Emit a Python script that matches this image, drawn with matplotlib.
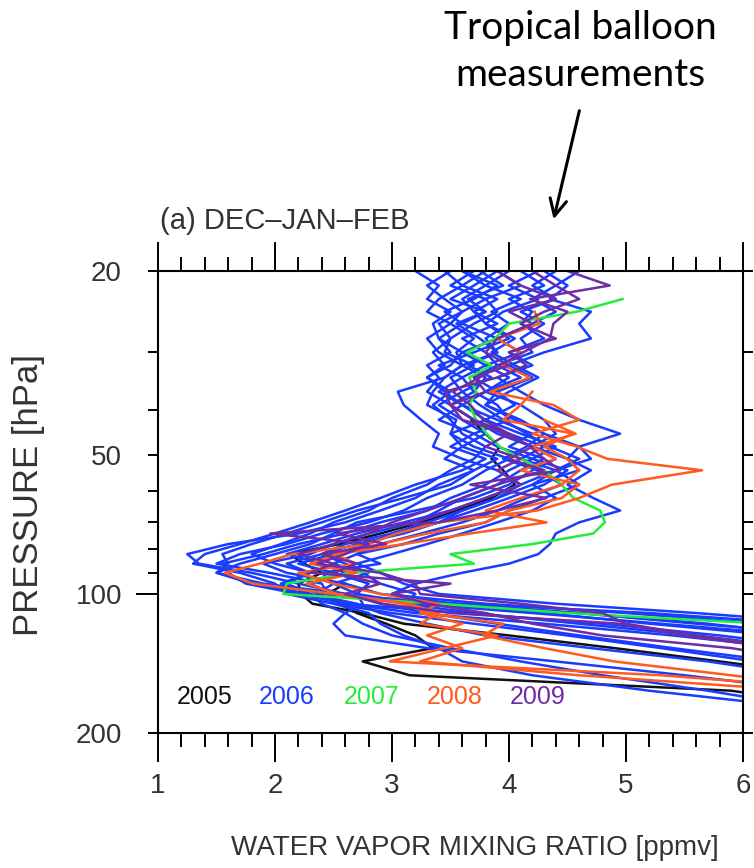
import numpy as np
import matplotlib.pyplot as plt

nan = np.nan

# pressure levels [hPa] shared by all balloon profiles
pressure = [20, 21.5, 23, 24.5, 26, 28, 30, 32, 34, 36.5, 39, 42,
            45, 48, 51, 54, 58, 62, 66, 70, 74, 78, 82, 86,
            90, 95, 100, 105, 110, 116, 123, 131, 140, 150, 162, 175]

# water vapour mixing ratio [ppmv], one list per sounding
h2o_2005 = [
    [nan, nan, nan, nan, nan, nan, nan, nan, nan, nan, nan, 3.68,
     3.8, 3.92, 3.85, 3.95, 4.05, 3.85, 3.55, 3.25, 2.9, 2.55, 2.12, 2.25,
     2.4, 2.2, 2.22, 2.32, 2.75, 3.1, 4.0, 4.9, 5.8, 6.7, nan, nan],
    [nan, nan, nan, nan, nan, nan, nan, nan, nan, nan, nan, nan,
     nan, nan, nan, nan, nan, nan, nan, nan, nan, nan, nan, nan,
     nan, 2.6, 2.45, 2.55, 2.7, 2.95, 3.2, 3.35, 2.75, 3.15, 5.9, 6.8],
]

h2o_2006 = [
    [3.7, 3.5, 3.8, 3.6, 3.5, 3.7, 3.55, 3.6, 3.45, 3.05, 3.1, 3.25,
     3.4, 3.35, 3.6, 3.9, 4.1, 3.8, 3.5, 3.1, 2.7, 2.4, 2.1, 2.4,
     2.6, 2.3, 2.5, 3.4, 4.6, 5.6, 6.8, nan, nan, nan, nan, nan],
    [4.3, 4.5, 4.35, 4.7, 4.6, 4.7, 4.3, 4.0, 4.2, 3.9, 4.05, 3.8,
     4.1, 4.4, 4.2, 4.5, 4.3, 4.0, 3.7, 3.4, 3.0, 2.8, 2.5, 2.2,
     2.5, 2.8, 2.7, 3.2, 4.2, 5.3, 6.5, nan, nan, nan, nan, nan],
    [3.9, 4.1, 3.8, 3.9, 3.7, 3.5, 3.45, 3.7, 3.5, 3.6, 3.4, 3.6,
     3.8, 3.6, 3.9, 3.7, 3.4, 3.2, 2.9, 2.6, 2.2, 1.6, 1.25, 1.35,
     1.8, 2.2, 2.6, 3.3, 4.3, 5.2, 6.3, nan, nan, nan, nan, nan],
    [4.0, 3.8, 4.1, 3.85, 4.0, 3.8, 3.9, 3.6, 3.8, 3.7, 3.9, 4.0,
     3.7, 3.9, 4.2, 4.0, 3.8, 3.5, 3.3, 2.9, 2.6, 2.2, 1.9, 1.55,
     1.6, 1.75, 2.2, 2.6, 3.6, 4.8, 5.8, 6.7, nan, nan, nan, nan],
    [3.6, 3.8, 3.6, 3.7, 3.9, 3.6, 3.8, 3.9, 3.7, 3.9, 3.8, 4.1,
     4.3, 4.6, 4.5, 4.7, 4.5, 4.72, 4.95, 4.6, 4.4, 4.35, 4.25, 4.0,
     3.6, 3.2, 3.0, 3.5, 4.6, 5.7, 6.6, nan, nan, nan, nan, nan],
    [4.1, 4.3, 4.0, 4.2, 4.1, 4.3, 4.0, 4.2, 3.9, 4.1, 4.3, 4.6,
     4.95, 4.6, 4.7, 4.4, 4.6, 4.3, 4.0, 3.8, 3.4, 3.1, 2.7, 2.9,
     2.4, 2.5, 2.35, 2.6, 3.2, 4.3, 5.4, 6.4, nan, nan, nan, nan],
    [3.5, 3.3, 3.45, 3.6, 3.4, 3.5, 3.35, 3.45, 3.3, 3.5, 3.35, 3.5,
     3.6, 3.8, 3.7, 3.5, 3.3, 3.0, 2.8, 2.5, 2.3, 2.05, 1.8, 2.0,
     2.3, 2.1, 2.3, 2.4, 2.6, 2.5, 2.6, 3.3, 4.4, 5.5, 6.6, nan],
    [3.8, 3.6, 3.9, 3.7, 3.8, 4.0, 3.7, 3.4, 3.6, 3.4, 3.6, 3.8,
     3.5, 3.7, 4.0, 3.8, 3.6, 3.3, 3.1, 2.8, 2.4, 2.1, 1.7, 1.5,
     1.95, 2.4, 2.45, 2.5, 2.8, 2.9, 3.1, 3.4, 3.6, 4.2, 5.2, 6.4],
    [4.4, 4.2, 4.4, 4.1, 4.3, 4.1, 4.2, 3.9, 4.1, 3.8, 3.6, 3.9,
     4.2, 4.0, 4.3, 4.1, 3.9, 3.6, 3.4, 3.2, 2.8, 2.5, 2.3, 1.9,
     2.1, 2.6, 2.9, 3.8, 5.0, 6.2, nan, nan, nan, nan, nan, nan],
    [3.2, 3.4, 3.3, 3.5, 3.35, 3.4, 3.5, 3.3, 3.4, 3.3, 3.5, 3.7,
     3.9, 4.2, 4.4, 4.2, 4.0, 3.7, 3.2, 2.7, 2.5, 2.3, 2.0, 1.7,
     1.5, 1.9, 2.6, 2.9, 3.3, 3.9, 4.6, 5.4, 6.3, nan, nan, nan],
    [3.6, 3.9, 3.7, 3.45, 3.6, 3.9, 3.6, 3.8, 4.0, 3.8, 4.1, 4.3,
     4.4, 4.2, 4.5, 4.6, 4.2, 4.4, 4.2, 3.9, 3.6, 3.3, 3.0, 2.7,
     2.9, 3.1, 3.4, 4.4, 5.6, 6.8, nan, nan, nan, nan, nan, nan],
    [3.9, 3.7, 3.5, 3.8, 3.6, 3.4, 3.6, 3.5, 3.3, 3.45, 3.6, 3.4,
     3.7, 3.5, 3.8, 3.6, 3.2, 2.9, 2.6, 2.3, 2.0, 1.7, 1.4, 1.3,
     1.7, 2.0, 2.1, 2.5, 3.0, 3.7, 4.5, 5.3, 6.1, nan, nan, nan],
    [4.6, 4.4, 4.2, 4.4, 4.2, 3.9, 4.1, 3.8, 3.6, 3.7, 3.5, 3.7,
     4.0, 4.3, 4.1, 4.4, 4.2, 3.9, 3.6, 3.4, 3.1, 2.7, 2.4, 2.6,
     2.8, 2.5, 2.7, 2.75, 2.6, 2.75, 3.0, 3.5, 4.1, 4.8, 5.7, 6.5],
    [3.75, 3.95, 3.65, 3.8, 3.55, 3.75, 3.9, 3.65, 3.85, 3.6, 3.75, 3.95,
     4.15, 4.35, 4.6, 4.4, 4.1, 3.9, 3.6, 3.3, 3.0, 2.6, 2.4, 2.1,
     2.3, 2.05, 2.4, 3.6, 5.2, 6.5, nan, nan, nan, nan, nan, nan],
    [4.25, 4.0, 4.25, 3.95, 3.8, 4.05, 3.85, 4.05, 4.25, 4.0, 3.8, 4.05,
     4.3, 4.15, 3.95, 4.25, 4.45, 4.15, 3.9, 3.6, 3.25, 2.9, 2.7, 2.5,
     2.75, 2.9, 3.2, 3.1, 3.7, 4.6, 5.6, 6.5, nan, nan, nan, nan],
    [3.45, 3.6, 3.4, 3.3, 3.5, 3.3, 3.4, 3.6, 3.45, 3.35, 3.3, 3.55,
     3.5, 3.6, 3.45, 3.7, 3.5, 3.1, 2.7, 2.4, 2.1, 1.8, 1.55, 1.6,
     1.5, 1.8, 2.3, 2.7, 2.9, 3.3, 3.8, 4.7, 5.7, 6.5, nan, nan],
]

h2o_2007 = [
    [nan, nan, 4.97, 4.58, 4.0, 3.88, 3.64, 3.85, 3.66, 3.72, 3.66, 3.72,
     3.81, 3.92, 4.1, 4.3, 4.45, 4.55, 4.78, 4.82, 4.72, 4.2, 3.5, 3.7,
     2.65, 2.1, 2.07, 3.4, 4.5, 6.2, nan, nan, nan, nan, nan, nan],
]

h2o_2008 = [
    [nan, nan, nan, 4.22, 4.26, 3.9, 4.1, 3.95, 4.18, 3.84, 4.38, 4.6,
     4.2, 4.58, 4.84, 5.65, 4.88, 4.6, 4.24, 3.4, 3.04, 2.8, 2.15, 1.87,
     1.57, 1.81, 2.5, 3.1, 3.3, 3.95, 3.78, 4.3, 4.9, 5.9, 7.0, nan],
    [nan, nan, nan, nan, nan, nan, nan, nan, nan, 4.2, 4.1, 3.95,
     4.55, 4.3, 4.5, 4.6, 4.45, 4.1, 3.8, 4.32, 3.67, 3.1, 2.53, 2.3,
     2.7, 2.27, 2.53, 3.15, 3.4, 3.24, 3.9, 3.45, 2.98, 5.3, 7.0, nan],
    [nan, nan, nan, nan, nan, nan, nan, nan, nan, nan, nan, 4.3,
     4.57, 4.2, 4.4, 4.1, 4.6, 4.45, 4.0, 3.8, 3.3, 2.9, 2.5, 2.7,
     2.2, 2.5, 2.9, 3.4, 3.24, 3.6, 3.3, 3.6, 3.24, 4.6, 6.5, nan],
]

h2o_2009 = [
    [4.5, 4.86, 4.18, 4.5, 4.38, 4.35, 4.12, 3.92, 3.75, 3.52, 3.67, 3.78,
     4.0, 4.18, 4.3, 4.44, 3.67, 4.32, 3.9, 3.4, 1.96, 2.8, 2.6, 2.36,
     2.9, 3.2, 3.24, 4.1, 4.8, 5.0, 5.6, 6.4, nan, nan, nan, nan],
    [4.2, 4.4, 4.6, 4.3, 4.1, 4.4, 4.0, 4.15, 3.9, 3.45, 3.5, 3.6,
     4.0, 3.8, 4.1, 3.9, 4.1, 3.8, 3.5, 3.2, 2.53, 2.95, 2.4, 2.7,
     2.5, 2.9, 2.6, 2.92, 3.5, 4.95, 5.5, 6.3, nan, nan, nan, nan],
    [3.9, 4.1, 4.4, 4.0, 4.2, 3.9, 3.8, 4.0, 3.7, 3.8, 3.5, 3.7,
     3.95, 4.2, 4.0, 4.3, 3.9, 3.6, 3.3, 3.0, 2.8, 2.5, 2.2, 2.5,
     2.3, 3.5, 3.0, 3.3, 3.8, 4.2, 4.8, 5.9, 6.6, nan, nan, nan],
]

years = ['2005', '2006', '2007', '2008', '2009']
colors = ['#111111', '#1a3cff', '#22ee3a', '#ff5a1f', '#6e2ca6']
profiles = [h2o_2005, h2o_2006, h2o_2007, h2o_2008, h2o_2009]

x_ticks = [1, 2, 3, 4, 5, 6]
y_ticks = [20, 50, 100, 200]
y_minor = [30, 40, 60, 70, 80, 90]

plt.rcParams['font.family'] = ['Liberation Sans', 'DejaVu Sans']

fig = plt.figure(figsize=(7.54, 8.68), dpi=100)
ax = fig.add_axes([158 / 754, 1 - 733 / 868, 585 / 754, 462 / 868])

for group, col in zip(profiles, colors):
    for prof in group:
        ax.plot(prof, pressure, color=col, lw=1.8)

ax.set_yscale('log')
ax.set_ylim(200, 20)
ax.set_xlim(1, 6)

ax.set_xticks(x_ticks)
ax.set_xticklabels([str(v) for v in x_ticks])
ax.set_xticks(np.arange(1, 6.01, 0.2), minor=True)
ax.set_yticks(y_ticks)
ax.set_yticklabels([str(v) for v in y_ticks])
ax.set_yticks(y_minor, minor=True)
ax.yaxis.set_minor_formatter(plt.NullFormatter())

ax.tick_params(axis='x', which='major', direction='out', length=21, width=1.4,
               top=True, bottom=True, pad=8, labelsize=20, labelcolor='#333333')
ax.tick_params(axis='x', which='minor', direction='out', length=10, width=1.4,
               top=True, bottom=True)
ax.tick_params(axis='y', which='both', direction='out', length=7, width=1.4,
               left=True, right=True, pad=19, labelsize=20, labelcolor='#333333')
ax.yaxis.get_major_ticks()[2].tick1line.set_markersize(16)

for sp in ax.spines.values():
    sp.set_linewidth(1.5)

# legend of years inside the panel
leg_x = [205, 287, 372, 455, 538]
for yr, col, px in zip(years, colors, leg_x):
    ax.text((px - 158) / 585, 0.078, yr, color=col, fontsize=18,
            ha='center', va='center', transform=ax.transAxes)

fig.text(160 / 754, 1 - 221 / 868, '(a) DEC\u2013JAN\u2013FEB', fontsize=21,
         color='#333333', ha='left', va='center')
fig.text(29 / 754, 1 - 495 / 868, 'PRESSURE [hPa]', fontsize=25, rotation=90,
         color='#333333', ha='center', va='center')
fig.text(475 / 754, 1 - 848 / 868, 'WATER VAPOR MIXING RATIO [ppmv]',
         fontsize=20, color='#333333', ha='center', va='center')

# callout
fig.text(580 / 754, 1 - 28 / 868, 'Tropical balloon', fontsize=28,
         family=['Lato', 'DejaVu Sans'], ha='center', va='center')
fig.text(580 / 754, 1 - 75 / 868, 'measurements', fontsize=28,
         family=['Lato', 'DejaVu Sans'], ha='center', va='center')
fig.add_artist(plt.Annotation('', xy=(553 / 754, 1 - 222 / 868),
                              xytext=(580 / 754, 1 - 108 / 868),
                              xycoords='figure fraction',
                              arrowprops=dict(arrowstyle='->', lw=2.2,
                                              mutation_scale=30, color='black')))

fig.savefig('out.png', dpi=100)
